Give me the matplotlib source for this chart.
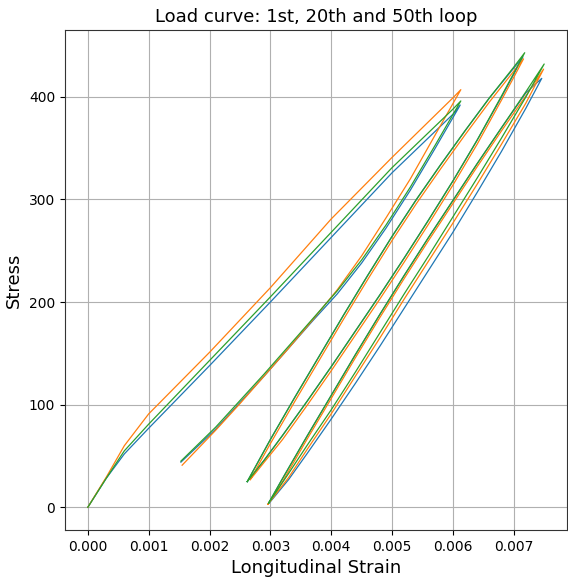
import matplotlib
matplotlib.use("Agg")
import matplotlib.pyplot as plt

# ---------------- data ----------------
# Loop 1: loading from origin, then unloading
l1_strain_blue = [0, 0.0003, 0.0006, 0.001, 0.002, 0.003, 0.004, 0.005, 0.006, 0.00612,
                  0.0057, 0.0053, 0.0049, 0.0045, 0.0041, 0.0037, 0.0033, 0.0029, 0.0025, 0.0021, 0.00153]
l1_stress_blue = [0, 28, 52, 77, 138, 200, 263, 326, 383, 392,
                  349, 309, 272, 238, 208, 182, 155, 128, 102, 76, 44]
l1_strain_orange = [0, 0.0003, 0.0006, 0.001, 0.002, 0.003, 0.004, 0.005, 0.006, 0.00613,
                    0.0057, 0.0053, 0.0049, 0.0045, 0.0041, 0.0037, 0.0033, 0.0029, 0.0025, 0.0021, 0.00155]
l1_stress_orange = [0, 29, 60, 91, 151, 214, 281, 341, 399, 407,
                    362, 320, 282, 245, 212, 183, 155, 128, 101, 75, 41]
l1_strain_green = [0, 0.0003, 0.0006, 0.001, 0.002, 0.003, 0.004, 0.005, 0.006, 0.00613,
                   0.0057, 0.0053, 0.0049, 0.0045, 0.0041, 0.0037, 0.0033, 0.0029, 0.0025, 0.0021, 0.00153]
l1_stress_green = [0, 28, 55, 81, 143, 205, 268, 331, 388, 396,
                   352, 312, 275, 241, 211, 184, 157, 130, 104, 78, 45]

# Loop 2: reloading from first valley to second peak and back
l2_strain_blue = [0.00262, 0.0030, 0.0034, 0.0038, 0.0042, 0.0046, 0.0050, 0.0054, 0.0058, 0.0062, 0.0066, 0.0070, 0.00715,
                  0.0070, 0.0068, 0.0064, 0.0060, 0.0056, 0.0052, 0.0048, 0.0044, 0.0040, 0.0036, 0.0032, 0.0029, 0.00262]
l2_stress_blue = [25, 66, 107, 147, 187, 226, 264, 300, 334, 367, 399, 428, 439,
                  422, 400, 358, 318, 280, 243, 207, 172, 137, 103, 70, 46, 25]
l2_strain_orange = [0.00267, 0.0030, 0.0034, 0.0038, 0.0042, 0.0046, 0.0050, 0.0054, 0.0058, 0.0062, 0.0066, 0.0070, 0.00716,
                    0.0070, 0.0068, 0.0064, 0.0060, 0.0056, 0.0052, 0.0048, 0.0044, 0.0040, 0.0036, 0.0032, 0.0029, 0.00267]
l2_stress_orange = [27, 62, 103, 143, 183, 222, 260, 296, 330, 363, 395, 425, 437,
                    419, 397, 354, 314, 276, 239, 203, 168, 133, 99, 66, 44, 27]
l2_strain_green = [0.00262, 0.0030, 0.0034, 0.0038, 0.0042, 0.0046, 0.0050, 0.0054, 0.0058, 0.0062, 0.0066, 0.0070, 0.00718,
                   0.0070, 0.0068, 0.0064, 0.0060, 0.0056, 0.0052, 0.0048, 0.0044, 0.0040, 0.0036, 0.0032, 0.0029, 0.00262]
l2_stress_green = [25, 66, 107, 147, 187, 226, 264, 300, 334, 367, 399, 429, 443,
                   423, 401, 358, 318, 280, 243, 207, 172, 137, 103, 70, 46, 25]

# Loop 3: reloading from second valley to third peak and back
l3_strain_blue = [0.00297, 0.0032, 0.0036, 0.0040, 0.0044, 0.0048, 0.0052, 0.0056, 0.0060, 0.0064, 0.0068, 0.0072, 0.00746,
                  0.0072, 0.0068, 0.0064, 0.0060, 0.0056, 0.0052, 0.0048, 0.0044, 0.0040, 0.0036, 0.0033, 0.00298]
l3_stress_blue = [4, 28, 69, 109, 149, 188, 226, 263, 299, 335, 370, 404, 418,
                  389, 347, 307, 268, 231, 194, 157, 121, 86, 52, 27, 4]
l3_strain_orange = [0.00296, 0.0032, 0.0036, 0.0040, 0.0044, 0.0048, 0.0052, 0.0056, 0.0060, 0.0064, 0.0068, 0.0072, 0.00749,
                    0.0072, 0.0068, 0.0064, 0.0060, 0.0056, 0.0052, 0.0048, 0.0044, 0.0040, 0.0036, 0.0033, 0.00296]
l3_stress_orange = [3, 25, 66, 106, 146, 185, 223, 260, 296, 332, 367, 401, 427,
                    394, 354, 315, 277, 240, 203, 165, 128, 91, 56, 29, 3]
l3_strain_green = [0.00297, 0.0032, 0.0036, 0.0040, 0.0044, 0.0048, 0.0052, 0.0056, 0.0060, 0.0064, 0.0068, 0.0072, 0.0075,
                   0.0072, 0.0068, 0.0064, 0.0060, 0.0056, 0.0052, 0.0048, 0.0044, 0.0040, 0.0036, 0.0033, 0.00297]
l3_stress_green = [4, 28, 69, 109, 149, 188, 226, 263, 299, 335, 370, 405, 432,
                   400, 360, 321, 283, 245, 208, 170, 132, 95, 60, 33, 4]

x_ticks = [0.000, 0.001, 0.002, 0.003, 0.004, 0.005, 0.006, 0.007]
y_ticks = [0, 100, 200, 300, 400]

# ---------------- figure ----------------
W, H = 568, 578
fig = plt.figure(figsize=(W / 100, H / 100), dpi=100)
ax = fig.add_axes([65 / W, (H - 530) / H, 502 / W, 500 / H])

series = [
    ("C0", [(l1_strain_blue, l1_stress_blue), (l2_strain_blue, l2_stress_blue), (l3_strain_blue, l3_stress_blue)]),
    ("C1", [(l1_strain_orange, l1_stress_orange), (l2_strain_orange, l2_stress_orange), (l3_strain_orange, l3_stress_orange)]),
    ("C2", [(l1_strain_green, l1_stress_green), (l2_strain_green, l2_stress_green), (l3_strain_green, l3_stress_green)]),
]
for color, loops in series:
    for xs, ys in loops:
        ax.plot(xs, ys, color=color, linewidth=0.9)

ax.set_xticks(x_ticks)
ax.set_xticklabels([f"{v:.3f}" for v in x_ticks])
ax.set_yticks(y_ticks)
ax.tick_params(labelsize=10)
ax.grid(True, color="#b0b0b0", linewidth=0.8)
ax.set_axisbelow(True)
ax.set_title("Load curve: 1st, 20th and 50th loop", fontsize=13)
ax.set_xlabel("Longitudinal Strain", fontsize=13)
ax.set_ylabel("Stress", fontsize=13)
for s in ax.spines.values():
    s.set_color("#333333")

fig.savefig("out.png", dpi=100)
